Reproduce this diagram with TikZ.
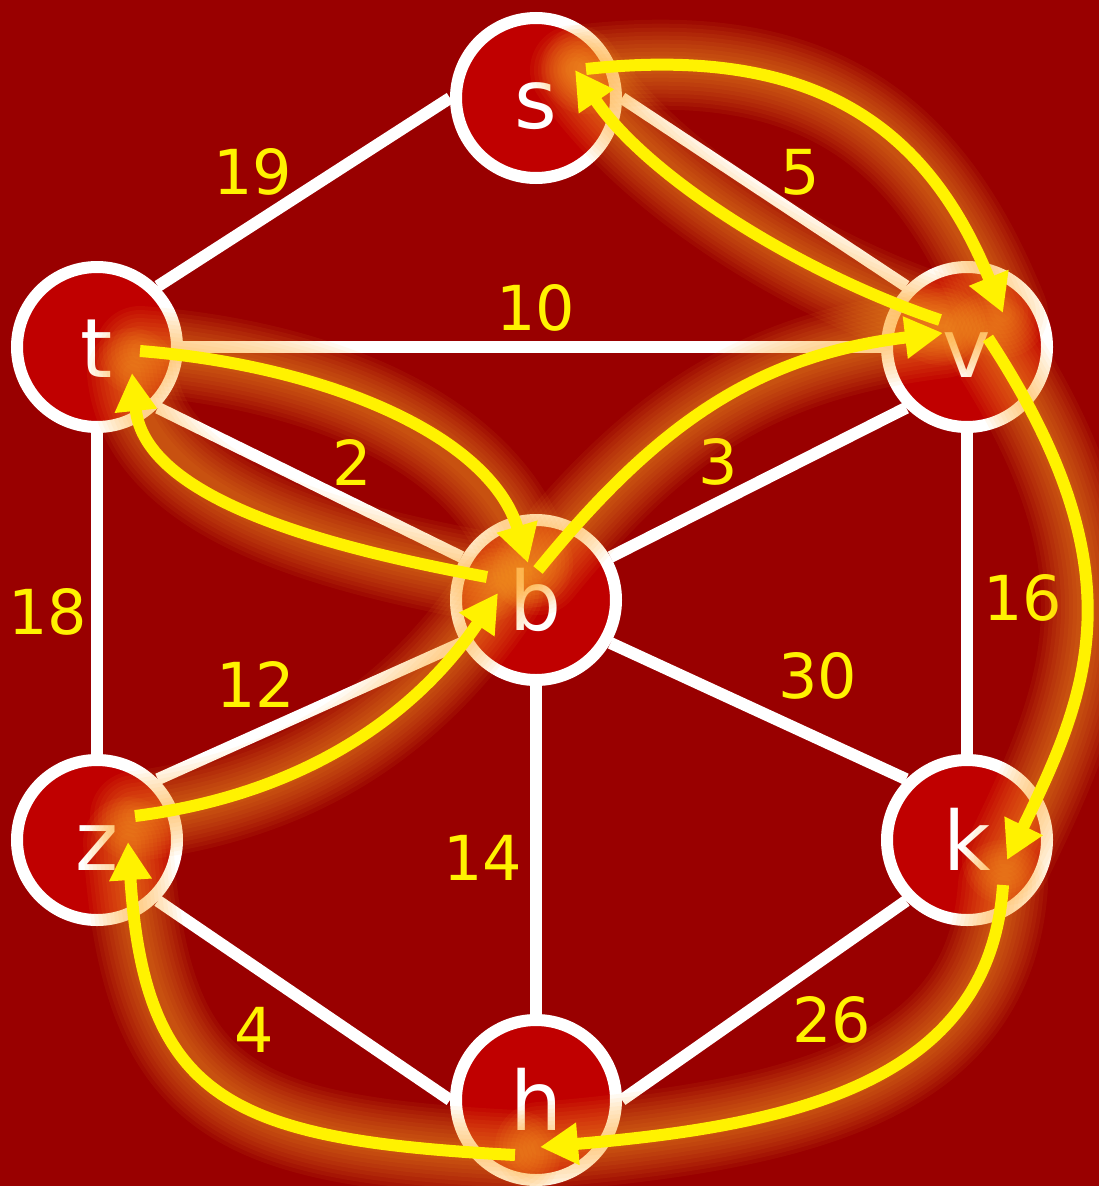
\documentclass[tikz,border=0pt]{standalone}
\usepackage{fontspec}
\setmainfont{DejaVu Sans}
\usetikzlibrary{arrows.meta,calc}
\definecolor{bgred}{HTML}{990000}
\definecolor{nodered}{HTML}{C00000}
\definecolor{glowc}{RGB}{255,170,40}
\newcommand{\flowpaths}[1]{%
  \draw[#1] ($(s)+(50,-29)$) .. controls +(230,-25) and +(-75,-185) .. ($(v)+(36,-34)$);
  \draw[#1] ($(v)+(-27,-27)$) .. controls +(-135,-45) and +(75,110) .. ($(s)+(39,-28)$);
  \draw[#1] ($(t)+(43,4)$) .. controls +(180,14) and +(-39,-130) .. ($(b)+(-8,-37)$);
  \draw[#1] ($(b)+(-49,-23)$) .. controls +(-157,-29) and +(13,127) .. ($(t)+(35,26)$);
  \draw[#1] ($(b)+(2,-30)$) .. controls +(122,-150) and +(-183,22) .. ($(v)+(-24,-14)$);
  \draw[#1] ($(z)+(38,-24)$) .. controls +(165,-21) and +(-84,125) .. ($(b)+(-38,-7)$);
  \draw[#1] ($(v)+(21,-9)$) .. controls +(152,232) and +(83,-170) .. ($(k)+(40,20)$);
  \draw[#1] ($(k)+(36,45)$) .. controls +(-13,195) and +(260,-22) .. ($(h)+(4,47)$);
  \draw[#1] ($(h)+(-21,55)$) .. controls +(-285,-15) and +(17,258) .. ($(z)+(31,2)$);
}
\begin{document}
\begin{tikzpicture}[x=1pt,y=-1pt,
  vertex/.style={circle,draw=white,fill=nodered,line width=12pt,minimum size=160pt,inner sep=0pt,
    text=white,font=\fontsize{82}{82}\selectfont,text height=60pt,text depth=0pt},
  edge/.style={draw=white,line width=12pt},
  weight/.style={text=yellow,font=\fontsize{62}{62}\selectfont},
  glow/.style={draw=glowc,opacity=0.065,line cap=round},
  flow/.style={draw=yellow,line width=12pt,-{Triangle[length=38pt,width=40pt]}}]
  \useasboundingbox (0,0) rectangle (1099,1186);
  \clip (0,0) rectangle (1099,1186);
  \fill[bgred] (0,0) rectangle (1099,1186);
  \node[vertex] (s) at (536,98) {s};
  \node[vertex] (t) at (97,347) {t};
  \node[vertex] (v) at (967,347) {v};
  \node[vertex] (b) at (536,600) {b};
  \node[vertex] (z) at (97,840) {z};
  \node[vertex] (k) at (967,840) {k};
  \node[vertex] (h) at (536,1100) {h};
  \draw[edge] (s.west) -- (t.north east);  \node[weight] (w19) at (253,172) {19};
  \draw[edge] (s.east) -- (v.north west);  \node[weight] (w5) at (800,172) {5};
  \draw[edge] (t.east) -- (v.west);        \node[weight] (w10) at (536,308) {10};
  \draw[edge] (t.south east) -- (b.150);   \node[weight] (w2) at (352,462) {2};
  \draw[edge] (v.south west) -- (b.30);    \node[weight] (w3) at (718,462) {3};
  \draw[edge] (t.south) -- (z.north);      \node[weight] (w18) at (48,612) {18};
  \draw[edge] (v.south) -- (k.north);      \node[weight] (w16) at (1023,598) {16};
  \draw[edge] (z.north east) -- (b.210);   \node[weight] (w12) at (256,684) {12};
  \draw[edge] (b.330) -- (k.north west);   \node[weight] (w30) at (818,676) {30};
  \draw[edge] (b.south) -- (h.north);      \node[weight] (w14) at (483,858) {14};
  \draw[edge] (z.south east) -- (h.west);  \node[weight] (w4) at (254,1030) {4};
  \draw[edge] (k.south west) -- (h.east);  \node[weight] (w26) at (832,1020) {26};
  \foreach \w in {90,82,74,66,58,50,42,34,26,18} {\flowpaths{glow,line width=\w pt}}
  \flowpaths{flow}
\end{tikzpicture}
\end{document}
